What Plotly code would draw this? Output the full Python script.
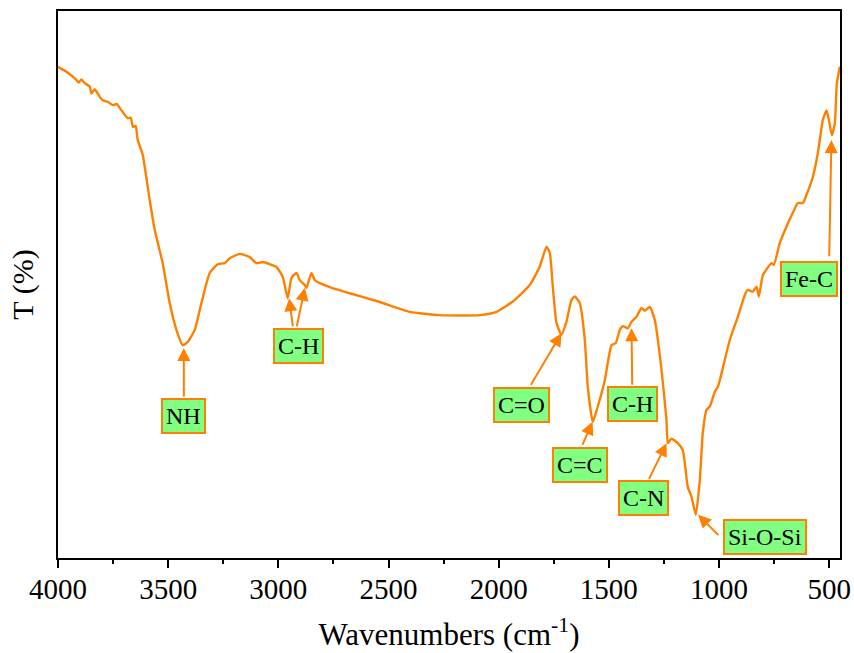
import numpy as np
import plotly.graph_objects as go

# ---- spectrum data (wavenumber, transmittance in arbitrary %) ----
wavenumber = [4000, 3961.9, 3916.5, 3906, 3893.8, 3878.8, 3856, 3848.4, 3833.4, 3810.7,
              3797.1, 3774.4, 3751.7, 3733.6, 3720, 3683.7, 3670, 3659.6, 3647.4, 3638.2,
              3615.5, 3583.8, 3561.1, 3524.9, 3493.1, 3462.6, 3434, 3411.4, 3379.6, 3349.1,
              3311.5, 3275.1, 3243.4, 3220.7, 3175.3, 3129.9, 3099.5, 3070.9, 3008.7, 2980.1,
              2957.4, 2940.6, 2917.9, 2902.9, 2880.2, 2872.5, 2849.8, 2834.8, 2766.7, 2675.9,
              2539.8, 2403.6, 2267.4, 2085.9, 2010.1, 1936.1, 1858.9, 1813.6, 1783.1, 1768.1,
              1754.5, 1737.8, 1715.1, 1692.4, 1669.7, 1654.7, 1632.0, 1609.3, 1595.7, 1573.0,
              1550.3, 1518.5, 1488.1, 1468.6, 1450.4, 1436.8, 1414.1, 1397.3, 1374.6, 1351.9,
              1336.9, 1314.2, 1291.5, 1261.1, 1238.4, 1232.5, 1215.8, 1187.2, 1164.5, 1141.8,
              1124.9, 1105.4, 1087.2, 1073.6, 1056.8, 1041.8, 1019.1, 1005.5, 996.4, 951.0,
              914.7, 882.9, 869.3, 846.6, 829.8, 819.4, 801.2, 761.7, 751.3, 724.1,
              693.7, 665.1, 642.4, 619.7, 602.9, 574.3, 551.6, 528.9, 512.1, 501.6,
              488.0, 474.4, 465.3, 451.7]
transmittance = [89.8, 88.9, 87.4, 86.9, 87.5, 86.8, 86.2, 84.9, 85.7, 84.3,
                 83.7, 83.4, 82.8, 83.0, 82.3, 80.4, 80.5, 78.8, 79.0, 76.4,
                 73.7, 65.4, 60.0, 53.9, 46.6, 41.7, 38.9, 39.5, 41.7, 46.6,
                 52.1, 53.7, 53.9, 54.8, 55.6, 55.0, 53.9, 54.1, 53.2, 51.4,
                 47.5, 51.2, 52.1, 50.8, 49.9, 49.4, 52.1, 50.8, 49.5, 48.4,
                 46.8, 45.0, 44.4, 44.4, 45.0, 46.9, 49.9, 53.3, 56.9, 55.8,
                 49.6, 43.0, 40.8, 43.2, 47.2, 47.8, 46.6, 39.9, 31.3, 24.9,
                 27.7, 32.5, 38.9, 39.3, 41.7, 42.4, 42.0, 43.2, 44.1, 45.7,
                 45.2, 45.9, 43.5, 34.4, 25.2, 21.0, 21.8, 21.0, 19.7, 13.0,
                 11.2, 7.9, 14.3, 22.9, 27.1, 27.7, 30.4, 31.3, 32.5, 39.9,
                 44.1, 48.1, 49.0, 48.7, 49.6, 47.8, 51.7, 53.9, 53.6, 57.6,
                 60.6, 63.1, 64.9, 64.9, 66.4, 69.7, 74.0, 80.1, 81.8, 80.1,
                 77.3, 79.5, 86.8, 89.8]

# ---- band labels ----
label_text = ["NH", "C-H", "C=O", "C=C", "C-H", "C-N", "Si-O-Si", "Fe-C"]
label_wn = [3429, 2907, 1895, 1632, 1391, 1341, 792, 593]
label_t = [26.0, 38.8, 28.0, 17.0, 28.2, 11.0, 3.8, 51.0]

# ---- arrows (tail -> head) ----
arrow_tail_wn = [3429, 2933, 2918, 1859, 1624, 1394, 1322, 996, 500]
arrow_tail_t = [29.1, 42.0, 42.0, 31.3, 20.3, 31.3, 14.1, 3.9, 54.8]
arrow_head_wn = [3429, 2951, 2880, 1715, 1574, 1397, 1238, 1095, 490]
arrow_head_t = [38.4, 47.5, 49.4, 41.1, 24.9, 42.0, 21.0, 7.9, 76.4]

ORANGE = "#FF8000"
GREEN = "#80FF80"
SERIF = "Liberation Serif, Times New Roman, serif"

fig = go.Figure()
fig.add_trace(go.Scatter(x=wavenumber, y=transmittance, mode="lines",
                         line=dict(color=ORANGE, width=2.4, shape="spline", smoothing=0.5),
                         showlegend=False))

annotations = []
for tw, tt, hw, ht in zip(arrow_tail_wn, arrow_tail_t, arrow_head_wn, arrow_head_t):
    annotations.append(dict(x=hw, y=ht, ax=tw, ay=tt, xref="x", yref="y",
                            axref="x", ayref="y", text=" ", font=dict(size=1),
                            showarrow=True, arrowhead=2, arrowsize=1.3,
                            arrowwidth=2, arrowcolor=ORANGE, standoff=0,
                            startstandoff=0))
for txt, w, t in zip(label_text, label_wn, label_t):
    annotations.append(dict(x=w, y=t, xref="x", yref="y", text=txt, showarrow=False,
                            font=dict(family=SERIF, size=24, color="black"),
                            bgcolor=GREEN, bordercolor=ORANGE, borderwidth=2,
                            borderpad=3))

fig.update_layout(
    width=854, height=653,
    margin=dict(l=58, r=14, t=11, b=95),
    paper_bgcolor="white", plot_bgcolor="white",
    font=dict(family=SERIF, color="black"),
    annotations=annotations,
    xaxis=dict(range=[4000, 451], showline=True, linecolor="black", linewidth=1.5,
               mirror=True, ticks="outside", ticklen=8, tickwidth=1.5,
               tickcolor="black", tickvals=[4000, 3500, 3000, 2500, 2000, 1500, 1000, 500],
               tickfont=dict(family=SERIF, size=29), showgrid=False, zeroline=False,
               automargin=False, ticklabelstandoff=-4,
               minor=dict(ticks="outside", ticklen=4, tickwidth=1.5, dtick=250,
                          tickcolor="black", showgrid=False),
               title=dict(text="Wavenumbers (cm<sup>-1</sup>)",
                          font=dict(family=SERIF, size=31), standoff=20)),
    yaxis=dict(range=[0, 100], showline=True, linecolor="black", linewidth=1.5,
               mirror=True, ticks="", showticklabels=False, showgrid=False,
               zeroline=False, automargin=False,
               title=dict(text="T (%)", font=dict(family=SERIF, size=30), standoff=14)),
)

fig.write_html("out.html")
